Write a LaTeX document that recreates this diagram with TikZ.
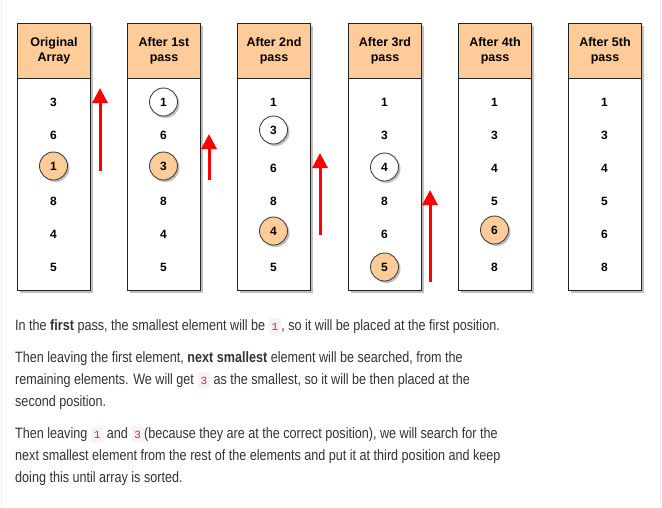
\documentclass[tikz,border=0pt]{standalone}
\usepackage{fontspec}
\setmainfont{Liberation Sans}
\newfontfamily\bodyfont[FakeStretch=0.84]{Liberation Sans}
\newfontfamily\codefont{Liberation Mono}
\usetikzlibrary{arrows.meta,shadows}
\definecolor{hdr}{HTML}{FFCC99}
\definecolor{txt}{HTML}{333333}
\definecolor{codefg}{HTML}{C7254E}
\definecolor{codebg}{HTML}{F9F2F4}
\definecolor{edgegray}{HTML}{EEEEEE}
\definecolor{boxline}{HTML}{222222}
\newcommand\code[1]{\tikz[baseline=(cc.base)]\node[fill=codebg,rounded corners=2pt,inner xsep=3pt,inner ysep=4.5pt,text=codefg,font=\codefont\fontsize{11}{13}\selectfont](cc){#1};}
\tikzset{
  shad/.style={drop shadow={shadow xshift=2pt,shadow yshift=-2pt,fill=black,opacity=0.25}},
  hdrbox/.style={draw=boxline,line width=1pt,fill=hdr,shad,anchor=north west,minimum width=73pt,minimum height=55pt,inner sep=0pt,align=center,font=\bfseries\fontsize{12.5}{15}\selectfont},
  bodybox/.style={draw=boxline,line width=1pt,fill=white,shad,anchor=north west,minimum width=73pt,minimum height=212pt,inner sep=0pt},
  num/.style={font=\bfseries\fontsize{12}{14}\selectfont,inner sep=0pt},
  ocirc/.style={num,circle,draw=black!75,line width=0.9pt,fill=hdr,minimum size=28pt,shad},
  wcirc/.style={num,circle,draw=black!75,line width=0.9pt,fill=white,minimum size=28pt,shad},
  redarrow/.style={draw=red,line width=3pt,-{Triangle[width=15pt,length=15pt]}},
  line/.style={anchor=base west,inner sep=0pt,text=txt,font=\bodyfont\fontsize{15}{18}\selectfont},
}
\begin{document}
\begin{tikzpicture}[x=1pt,y=-1pt]
\useasboundingbox (0,0) rectangle (662,507);
\fill[white] (0,0) rectangle (662,507);
\draw[edgegray,line width=1pt] (1.5,0) -- (1.5,507);
\draw[edgegray,line width=1pt] (660.5,0) -- (660.5,507);

% columns
\foreach \i/\x/\t in {1/17/{Original\\Array},2/127/{After 1st\\pass},3/237/{After 2nd\\pass},4/348/{After 3rd\\pass},5/458/{After 4th\\pass},6/568/{After 5th\\pass}}{
  \node[hdrbox] (h\i) at (\x,23) {\t};
  \node[bodybox] (b\i) at (\x,78) {};
}

% column 1
\node[num]   (c1r1) at (53.5,102) {3};
\node[num]   (c1r2) at (53.5,135) {6};
\node[ocirc] (c1r3) at (53.5,166) {1};
\node[num]   (c1r4) at (53.5,201) {8};
\node[num]   (c1r5) at (53.5,234) {4};
\node[num]   (c1r6) at (53.5,267) {5};
% column 2
\node[wcirc] (c2r1) at (163.5,102) {1};
\node[num]   (c2r2) at (163.5,135) {6};
\node[ocirc] (c2r3) at (163.5,166) {3};
\node[num]   (c2r4) at (163.5,201) {8};
\node[num]   (c2r5) at (163.5,234) {4};
\node[num]   (c2r6) at (163.5,267) {5};
% column 3
\node[num]   (c3r1) at (273.5,102) {1};
\node[wcirc] (c3r2) at (273.5,130) {3};
\node[num]   (c3r3) at (273.5,168) {6};
\node[num]   (c3r4) at (273.5,201) {8};
\node[ocirc] (c3r5) at (273.5,231) {4};
\node[num]   (c3r6) at (273.5,267) {5};
% column 4
\node[num]   (c4r1) at (384.5,102) {1};
\node[num]   (c4r2) at (384.5,135) {3};
\node[wcirc] (c4r3) at (384.5,167) {4};
\node[num]   (c4r4) at (384.5,201) {8};
\node[num]   (c4r5) at (384.5,234) {6};
\node[ocirc] (c4r6) at (384.5,267) {5};
% column 5
\node[num]   (c5r1) at (494.5,102) {1};
\node[num]   (c5r2) at (494.5,135) {3};
\node[num]   (c5r3) at (494.5,168) {4};
\node[num]   (c5r4) at (494.5,201) {5};
\node[ocirc] (c5r5) at (494.5,230) {6};
\node[num]   (c5r6) at (494.5,267) {8};
% column 6
\node[num]   (c6r1) at (604.5,102) {1};
\node[num]   (c6r2) at (604.5,135) {3};
\node[num]   (c6r3) at (604.5,168) {4};
\node[num]   (c6r4) at (604.5,201) {5};
\node[num]   (c6r5) at (604.5,234) {6};
\node[num]   (c6r6) at (604.5,267) {8};

% arrows
\coordinate (a1s) at (100,171); \coordinate (a1e) at (100,88);
\coordinate (a2s) at (209,180); \coordinate (a2e) at (209,134);
\coordinate (a3s) at (320,235); \coordinate (a3e) at (320,153);
\coordinate (a4s) at (430,282); \coordinate (a4e) at (430,190);
\draw[redarrow] (a1s) -- (a1e);
\draw[redarrow] (a2s) -- (a2e);
\draw[redarrow] (a3s) -- (a3e);
\draw[redarrow] (a4s) -- (a4e);

% text
\node[line] (t1) at (15,330) {In the \textbf{first} pass, the smallest element will be \code{1}, so it will be placed at the first position.};
\node[line] (t2) at (15,362) {Then leaving the first element, \textbf{next smallest} element will be searched, from the};
\node[line] (t3) at (15,384) {remaining elements. We will get \code{3} as the smallest, so it will be then placed at the};
\node[line] (t4) at (15,406) {second position.};
\node[line] (t5) at (15,438) {Then leaving \code{1} and \code{3}(because they are at the correct position), we will search for the};
\node[line] (t6) at (15,460) {next smallest element from the rest of the elements and put it at third position and keep};
\node[line] (t7) at (15,482) {doing this until array is sorted.};
\end{tikzpicture}
\end{document}
